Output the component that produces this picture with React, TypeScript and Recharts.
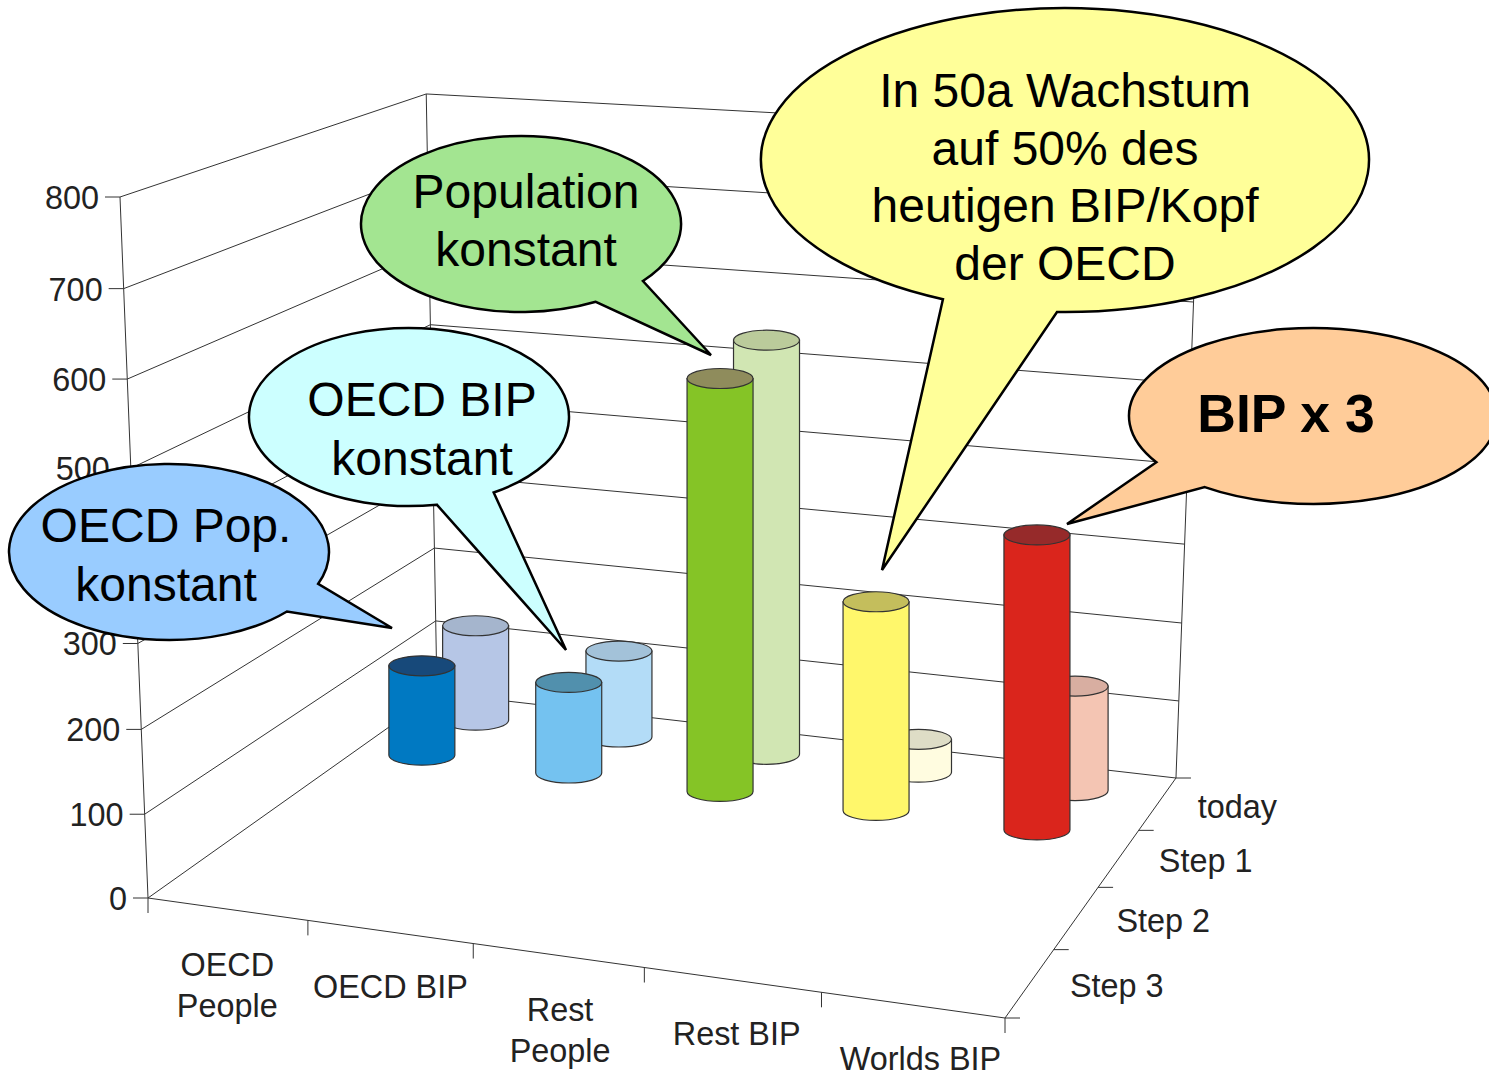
import { Bar, ComposedChart, ReferenceLine, XAxis, YAxis } from "recharts";

const WIDTH = 1489;
const HEIGHT = 1072;
const FONT = '"Liberation Sans", Arial, sans-serif';

const categories = [["OECD", "People"], ["OECD BIP"], ["Rest", "People"], ["Rest BIP"], ["Worlds BIP"]];
const depthLabels = ["Step 3", "Step 2", "Step 1", "today"];
const valueTicks = [0, 100, 200, 300, 400, 500, 600, 700, 800];

const todayValues = [128, 115, 534, 43, 134];
const stepOneValues = [118, 118, 518, 262, 363];

const todayColors = ["#B6C6E6", "#B3DCF7", "#D1E6B3", "#FFFCE0", "#F4C5B3"];
const todayTops = ["#A5B5CD", "#A3C2D9", "#BBCB9B", "#DEDDC6", "#D8AEA1"];
const stepOneColors = ["#0079C2", "#74C2F0", "#85C426", "#FFF76B", "#DA251C"];
const stepOneTops = ["#17497A", "#5190AD", "#8F8C5C", "#C4BE5C", "#962A2A"];

const CYLINDER_WIDTH = 66;

// box corners as seen in the picture, the 3D look comes from this projection
const O = [148, 898];
const X = [1005, 1018];
const Y = [437, 693];
const Z = [120, 197];
const gx = -0.0825;
const gy = 0.1788;
const gz = -0.05;

function project(u: number, v: number, w: number) {
  const denom = 1 + gx * u + gy * v + gz * w;
  const at = (i: number) =>
    (O[i] +
      u * (X[i] * (1 + gx) - O[i]) +
      v * (Y[i] * (1 + gy) - O[i]) +
      w * (Z[i] * (1 + gz) - O[i])) /
    denom;
  return { x: at(0), y: at(1) };
}

function buildRow(values: number[], colors: string[], tops: string[], depth: number, shift: number) {
  return values.map((value, i) => {
    const u = (i + 0.5) / values.length + shift;
    const base = project(u, depth, 0);
    const top = project(u, depth, value / 800);
    return { sx: base.x, range: [top.y, base.y], fill: colors[i], topFill: tops[i] };
  });
}

// back row first so the front cylinders paint over it
const chartData = [
  ...buildRow(todayValues, todayColors, todayTops, 0.89, -0.006),
  ...buildRow(stepOneValues, stepOneColors, stepOneTops, 0.7, -0.014),
];

function Cylinder(props: any) {
  const { x, y, width, height, payload } = props;
  const top = Math.min(y, y + height);
  const bottom = Math.max(y, y + height);
  const rx = CYLINDER_WIDTH / 2;
  const left = x + width / 2 - rx;
  const right = left + CYLINDER_WIDTH;
  const ry = 10;
  return (
    <g stroke="#333" strokeWidth={1.2}>
      <path
        d={`M${left},${top} L${left},${bottom} A${rx},${ry} 0 0 0 ${right},${bottom} L${right},${top} Z`}
        fill={payload.fill}
      />
      <ellipse cx={left + rx} cy={top} rx={rx} ry={ry} fill={payload.topFill} />
    </g>
  );
}

function seg(a: { x: number; y: number }, b: { x: number; y: number }, key: string) {
  return <ReferenceLine key={key} segment={[a, b]} stroke="#333" strokeWidth={1} />;
}

const shiftBy = (p: { x: number; y: number }, dx: number, dy: number) => ({ x: p.x + dx, y: p.y + dy });

const gridLines = [
  ...valueTicks.flatMap((t) => {
    const w = t / 800;
    return [
      seg(project(0, 0, w), project(0, 1, w), `l${t}`),
      seg(project(0, 1, w), project(1, 1, w), `b${t}`),
      seg(project(0, 0, w), shiftBy(project(0, 0, w), -15, 0), `t${t}`),
    ];
  }),
  seg(project(0, 0, 0), project(0, 0, 1), "v0"),
  seg(project(0, 1, 0), project(0, 1, 1), "v1"),
  seg(project(1, 1, 0), project(1, 1, 1), "v2"),
  seg(project(0, 0, 0), project(1, 0, 0), "front"),
  seg(project(1, 0, 0), project(1, 1, 0), "side"),
  ...categories
    .map((_, i) => i)
    .concat(categories.length)
    .map((i) => {
      const p = project(i / categories.length, 0, 0);
      return seg(p, shiftBy(p, 0, 15), `c${i}`);
    }),
  ...depthLabels
    .map((_, i) => i)
    .concat(depthLabels.length)
    .map((i) => {
      const p = project(1, i / depthLabels.length, 0);
      return seg(p, shiftBy(p, 15, 0), `d${i}`);
    }),
];

const axisText = { fontFamily: FONT, fontSize: 32.4, fill: "#222" };

function AxisLabels() {
  return (
    <g>
      {valueTicks.map((t) => {
        const p = project(0, 0, t / 800);
        return (
          <text key={t} {...axisText} x={p.x - 21} y={p.y + 12} textAnchor="end">
            {t}
          </text>
        );
      })}
      {categories.map((lines, i) => {
        const p = project((i + 0.5) / categories.length, 0, 0);
        return lines.map((line, j) => (
          <text key={line} {...axisText} x={p.x + (i * i) / 2} y={p.y + 67 - i / 2 + j * 41} textAnchor="middle">
            {line}
          </text>
        ));
      })}
      {depthLabels.map((label, i) => {
        const p = project(1, (i + 0.5) / depthLabels.length, 0);
        return (
          <text key={label} {...axisText} x={p.x + 40} y={p.y + 14}>
            {label}
          </text>
        );
      })}
    </g>
  );
}

const callouts = [
  {
    fill: "#FFFF99",
    cx: 1065,
    cy: 160,
    rx: 304,
    ry: 152,
    from: [1057, 312],
    tip: [882, 570],
    to: [944, 298],
    sweep: 0,
    lines: [
      ["In 50a Wachstum", 1065, 107],
      ["auf 50% des", 1065, 165],
      ["heutigen BIP/Kopf", 1065, 222],
      ["der OECD", 1065, 280],
    ],
  },
  {
    fill: "#FFCC99",
    cx: 1313,
    cy: 416,
    rx: 184,
    ry: 88,
    from: [1157, 462],
    tip: [1067, 524],
    to: [1205, 487],
    sweep: 1,
    fontSize: 53.5,
    lines: [["BIP x 3", 1286, 432]],
    bold: true,
  },
  {
    fill: "#A3E591",
    cx: 521,
    cy: 224,
    rx: 160,
    ry: 88,
    from: [643, 281],
    tip: [711, 355],
    to: [595, 301],
    sweep: 0,
    lines: [
      ["Population", 526, 208],
      ["konstant", 526, 266],
    ],
  },
  {
    fill: "#CCFFFF",
    cx: 409,
    cy: 417,
    rx: 160,
    ry: 89,
    from: [492, 491],
    tip: [566, 650],
    to: [435, 499],
    sweep: 0,
    lines: [
      ["OECD BIP", 422, 416],
      ["konstant", 422, 475],
    ],
  },
  {
    fill: "#99CCFF",
    cx: 169,
    cy: 552,
    rx: 160,
    ry: 88,
    from: [319, 584],
    tip: [392, 628],
    to: [288, 612],
    sweep: 0,
    lines: [
      ["OECD Pop.", 166, 542],
      ["konstant", 166, 601],
    ],
  },
];

// put a rough point exactly on the ellipse so the arc keeps its centre
function onEllipse(c: { cx: number; cy: number; rx: number; ry: number }, p: number[]) {
  const t = Math.atan2((p[1] - c.cy) / c.ry, (p[0] - c.cx) / c.rx);
  return [c.cx + c.rx * Math.cos(t), c.cy + c.ry * Math.sin(t)];
}

const layer = { position: "absolute", left: 0, top: 0 } as const;

function Callouts() {
  return (
    <svg width={WIDTH} height={HEIGHT} style={layer}>
      {callouts.map((c) => (
        <g key={c.lines[0][0] as string}>
          <path
            d={`M${onEllipse(c, c.from)} A${c.rx},${c.ry} 0 1 ${c.sweep} ${onEllipse(c, c.to)} L${c.tip} Z`}
            fill={c.fill}
            stroke="#000"
            strokeWidth={2.5}
          />
          {c.lines.map(([text, x, y]) => (
            <text
              key={text as string}
              x={x as number}
              y={y as number}
              textAnchor="middle"
              fontFamily={FONT}
              fontSize={c.fontSize ?? 48}
              fontWeight={c.bold ? "bold" : "normal"}
              fill="#000"
            >
              {text}
            </text>
          ))}
        </g>
      ))}
    </svg>
  );
}

// same pixel axes in both layers, so the cylinders sit on top of the grid
function Plane({ children }: { children: React.ReactNode }) {
  return (
    <div style={layer}>
      <ComposedChart
        width={WIDTH}
        height={HEIGHT}
        data={chartData}
        margin={{ top: 0, right: 0, bottom: 0, left: 0 }}
      >
        <XAxis dataKey="sx" type="number" domain={[0, WIDTH]} hide />
        <YAxis type="number" domain={[0, HEIGHT]} reversed hide width={0} />
        {children}
      </ComposedChart>
    </div>
  );
}

export default function App() {
  return (
    <div style={{ ...layer, width: WIDTH, height: HEIGHT, background: "#fff" }}>
      <Plane>
        {/* the reference lines need a series in the chart to get their scales */}
        <Bar dataKey="range" barSize={66} shape={() => <g />} isAnimationActive={false} />
        {gridLines}
        <AxisLabels />
      </Plane>
      <Plane>
        <Bar dataKey="range" barSize={66} shape={Cylinder} isAnimationActive={false} />
      </Plane>
      <Callouts />
    </div>
  );
}
